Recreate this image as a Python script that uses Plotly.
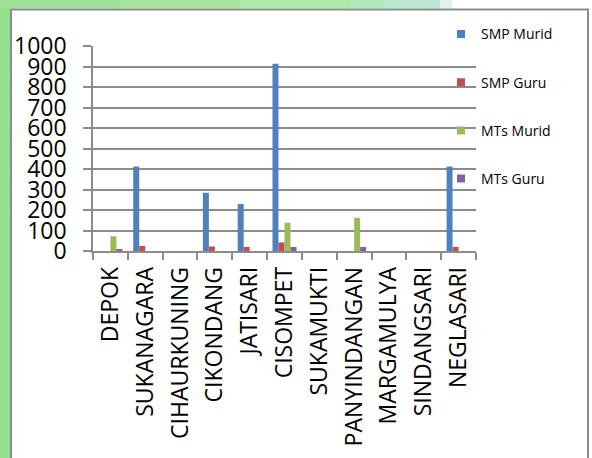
import plotly.graph_objects as go

# kecamatan / desa names on the x axis
categories = ["DEPOK", "SUKANAGARA", "CIHAURKUNING", "CIKONDANG", "JATISARI",
              "CISOMPET", "SUKAMUKTI", "PANYINDANGAN", "MARGAMULYA",
              "SINDANGSARI", "NEGLASARI"]

smp_murid = [0, 412, 0, 284, 229, 913, 0, 0, 0, 0, 412]
smp_guru = [0, 25, 0, 22, 20, 42, 0, 0, 0, 0, 20]
mts_murid = [72, 0, 0, 0, 0, 138, 0, 162, 0, 0, 0]
mts_guru = [10, 0, 0, 0, 0, 20, 0, 20, 0, 0, 0]

series = [
    ("SMP Murid", smp_murid, "#4F81BD"),
    ("SMP Guru", smp_guru, "#C0504D"),
    ("MTs Murid", mts_murid, "#9BBB59"),
    ("MTs Guru", mts_guru, "#8064A2"),
]

W, H = 592, 458
# plot area in pixels
L, R, T, B = 93, 476, 46, 254


def px_x(px):
    return (px - L) / (R - L)


def px_y(py):
    return (B - py) / (B - T)


fig = go.Figure()
for name, vals, col in series:
    fig.add_trace(go.Bar(
        x=categories, y=vals, name=name, showlegend=False,
        marker=dict(color=col, line=dict(width=0)),
    ))
# small square legend keys, like the office chart
for name, vals, col in series:
    fig.add_trace(go.Scatter(
        x=[None], y=[None], mode="markers", name=name, legendgroup=name,
        marker=dict(symbol="square", size=8, color=col),
    ))

# slide background: green strip on the left, fading strip on top
shapes = [
    dict(type="rect", xref="paper", yref="paper", x0=px_x(-2), x1=px_x(10),
         y0=px_y(470), y1=px_y(-2), fillcolor="#98DF8F", line_width=0, layer="below"),
]
top_strip = [(-2, 120, "#9EE196"), (120, 240, "#A6E5A0"), (240, 350, "#AEE9AA"),
             (350, 385, "#B2E9BC"), (385, 440, "#BAE8D2"), (440, 452, "#DDF3EC")]
for a, b, c in top_strip:
    shapes.append(dict(type="rect", xref="paper", yref="paper", x0=px_x(a), x1=px_x(b),
                       y0=px_y(8), y1=px_y(-2), fillcolor=c, line_width=0, layer="below"))
# chart box
shapes.append(dict(type="rect", xref="paper", yref="paper", x0=px_x(11), x1=px_x(588),
                   y0=px_y(470), y1=px_y(9), fillcolor="rgba(0,0,0,0)",
                   line=dict(color="#8C8C8C", width=2), layer="below"))

fig.update_layout(
    width=W, height=H,
    margin=dict(l=L, r=W - R, t=T, b=H - B, pad=0),
    paper_bgcolor="white", plot_bgcolor="white",
    font=dict(family="Open Sans", color="black"),
    barmode="group", bargap=0.31, bargroupgap=0,
    shapes=shapes,
    legend=dict(
        x=px_x(441), y=px_y(18), xanchor="left", yanchor="top",
        font=dict(size=14), bgcolor="rgba(0,0,0,0)",
        itemwidth=30, tracegroupgap=27,
    ),
    xaxis=dict(
        tickangle=-90, tickfont=dict(size=23),
        showline=True, linecolor="#8C8C8C", linewidth=1.5,
        ticks="outside", ticklen=7, tickcolor="#8C8C8C", tickwidth=1.5,
        tickson="boundaries", ticklabelstandoff=5,
    ),
    yaxis=dict(
        range=[0, 1000], dtick=100, tickfont=dict(size=23),
        showgrid=True, gridcolor="#8C8C8C", gridwidth=1.5,
        showline=True, linecolor="#8C8C8C", linewidth=1.5,
        ticks="outside", ticklen=8, tickcolor="#8C8C8C", tickwidth=1.5,
        zeroline=False, ticklabelstandoff=12,
    ),
)

fig.write_html("out.html", config={"displayModeBar": False},
               post_script="document.body.style.margin = '0';")
